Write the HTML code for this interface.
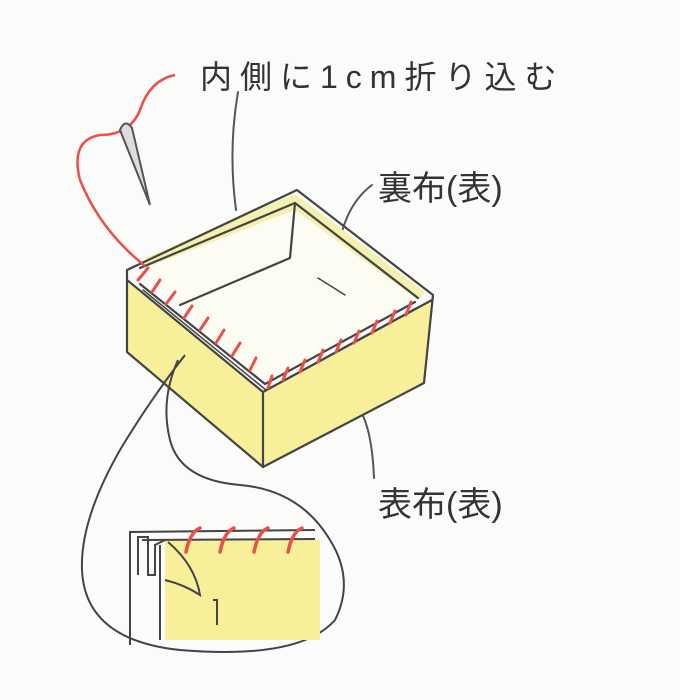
<!DOCTYPE html>
<html><head><meta charset="utf-8"><style>
html,body{margin:0;padding:0;background:#fbfbf9;}
svg{display:block}
text{font-family:"Liberation Sans","Noto Sans CJK JP",sans-serif;fill:#333;}
</style></head><body>
<svg width="680" height="700" viewBox="0 0 680 700" xmlns="http://www.w3.org/2000/svg">
<rect width="680" height="700" fill="#fbfbf9"/>
<!-- labels -->
<text x="200" y="88" font-size="32" letter-spacing="8">内側に1cm折り込む</text>
<text x="378" y="200" font-size="34">裏布(表)</text>
<text x="378" y="516" font-size="34">表布(表)</text>
<!-- leaders -->
<g fill="none" stroke="#555" stroke-width="2" stroke-linecap="round">
<path d="M238 92 Q228 150 236 210"/>
<path d="M372 185 Q345 205 338 250"/>
<path d="M374 478 Q372 430 360 410"/>
</g>
<!-- box yellow faces -->
<polygon points="127,282 263,392 263,467 127,352" fill="#f8ef9a"/>
<polygon points="263,392 432,300 424,383 263,467" fill="#f8ef9a"/>
<!-- inner -->
<polygon points="140,268 295,205 415,298 265,385" fill="#fdfcf3"/>
<path d="M145 258 L295 194 L425 292 L418 300 L295 210 L145 268 Z" fill="#f4f0b0"/>
<g fill="none" stroke="#444" stroke-width="2.2" stroke-linejoin="round" stroke-linecap="round">
<path d="M127 270 L297 190 L433 295 L424 383 L263 467 L127 352 Z"/>
<path d="M127 280 L263 392 L432 300"/>
<path d="M263 392 L263 467"/>
<path d="M140 268 L295 203 L418 298"/>
<path d="M295 203 L290 258 L180 305"/>
<path d="M140 284 L265 384 L415 302"/>
<path d="M143 290 L266 390 L418 307" stroke-width="1.5"/>
<path d="M318 278 L345 295" stroke-width="1.5"/>
</g>
<!-- stitches box -->
<g stroke="#e8504a" stroke-width="3" stroke-linecap="round">
<path d="M138 280 L148 268"/><path d="M152 292 L160 280"/><path d="M166 304 L175 292"/><path d="M184 318 L192 306"/><path d="M200 330 L208 318"/><path d="M216 343 L224 330"/><path d="M232 356 L240 343"/><path d="M250 370 L256 358"/>
<path d="M268 388 L272 376"/><path d="M283 380 L288 368"/><path d="M300 372 L305 360"/><path d="M318 362 L323 350"/><path d="M336 352 L341 340"/><path d="M354 343 L359 331"/><path d="M372 333 L377 321"/><path d="M390 323 L395 311"/><path d="M406 315 L411 302"/>
</g>
<!-- thread and needle -->
<path d="M145 266 Q100 230 80 180 Q70 140 100 135 Q130 135 140 110 Q150 80 175 75" fill="none" stroke="#e8504a" stroke-width="2.5"/>
<path d="M120 130 Q125 118 132 128 L150 205 Z" fill="#ddd" stroke="#555" stroke-width="2"/>
<!-- inset connector + blob -->
<g fill="none" stroke="#444" stroke-width="2">
<path d="M185 355 Q150 400 120 450 Q80 520 82 570 Q85 640 180 650 Q300 660 335 620 Q355 580 330 540 Q300 490 240 485 Q180 480 170 440 Q160 400 178 360"/>
</g>
<rect x="165" y="540" width="155" height="100" fill="#f8ef9a"/>
<g fill="none" stroke="#444" stroke-width="2">
<path d="M130 645 L130 532 L315 530"/>
<path d="M142 540 L315 539"/>
<path d="M160 640 L160 545"/>
<path d="M138 575 L138 537 L148 537 L148 575 L155 575 L155 545 L165 540"/>
<path d="M168 542 Q195 565 200 595 Q185 585 165 580"/>
<path d="M213 600 L217 600 L217 625"/>
</g>
<g stroke="#e8504a" stroke-width="3.5" stroke-linecap="round" fill="none">
<path d="M186 552 Q190 532 200 528"/><path d="M220 552 Q224 532 234 528"/><path d="M254 552 Q258 532 268 528"/><path d="M288 552 Q292 532 302 528"/>
</g>
</svg>
</body></html>
